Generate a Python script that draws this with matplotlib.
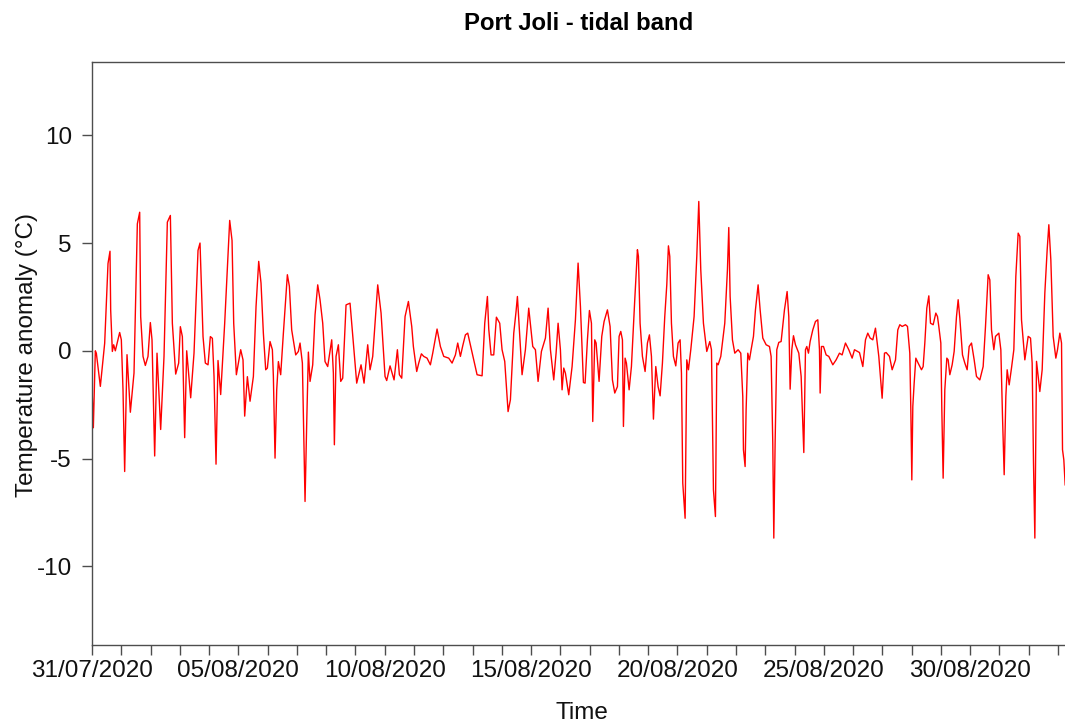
import pandas as pd
import matplotlib
matplotlib.use("Agg")
import matplotlib.pyplot as plt
import matplotlib.dates as mdates

plt.rcParams['font.family'] = ['Liberation Sans', 'DejaVu Sans']

# tidal band anomaly, time in days after 31/07/2020 00:00
start = pd.Timestamp("2020-07-31")
days = [
    0.011, 0.046, 0.114, 0.148, 0.285, 0.433, 0.547, 0.615, 0.638, 0.695, 0.740, 0.797, 0.945,
    1.002, 1.059, 1.116, 1.196, 1.310, 1.435, 1.549, 1.629, 1.663, 1.743, 1.822, 1.913, 1.993,
    2.050, 2.141, 2.221, 2.346, 2.460, 2.574, 2.677, 2.745, 2.859, 2.961, 3.018, 3.087, 3.166,
    3.235, 3.371, 3.485, 3.622, 3.690, 3.793, 3.872, 3.964, 4.043, 4.112, 4.169, 4.237, 4.305,
    4.396, 4.533, 4.704, 4.784, 4.841, 4.932, 5.080, 5.159, 5.216, 5.308, 5.399,
    5.513, 5.604, 5.695, 5.774, 5.854, 5.934, 5.991, 6.082, 6.162, 6.196, 6.253, 6.310, 6.367,
    6.446, 6.538, 6.674, 6.743, 6.822, 6.959, 7.050, 7.107, 7.187, 7.278, 7.335, 7.392, 7.449,
    7.540, 7.620, 7.711, 7.790, 7.882, 7.961, 8.052, 8.189, 8.246, 8.280, 8.337, 8.417, 8.497,
    8.565, 8.679, 8.815, 8.872, 9.043, 9.191, 9.294, 9.419, 9.499, 9.590, 9.761, 9.875, 10.011,
    10.068, 10.182, 10.319, 10.433, 10.501, 10.581, 10.695, 10.809, 10.923, 10.979,
    11.093, 11.162, 11.253, 11.333, 11.446, 11.560, 11.640, 11.788, 11.902, 12.016, 12.187,
    12.301, 12.415, 12.494, 12.585, 12.665, 12.756, 12.836, 12.961, 13.041, 13.155, 13.326,
    13.417, 13.508, 13.554, 13.633, 13.724, 13.815, 13.929, 14.009, 14.100, 14.214, 14.294,
    14.408, 14.487, 14.533, 14.601, 14.692, 14.806, 14.920, 15.057, 15.148, 15.239, 15.353,
    15.490, 15.581, 15.661, 15.774, 15.854, 15.923, 16.002, 16.059, 16.116, 16.173, 16.287,
    16.401, 16.515, 16.606, 16.686,
    16.788, 16.845, 16.925, 16.993, 17.062, 17.107, 17.175, 17.221, 17.323, 17.415, 17.494,
    17.608, 17.699, 17.779, 17.859, 17.950, 18.007, 18.064, 18.121, 18.155, 18.212, 18.257,
    18.349, 18.428, 18.542, 18.633, 18.667, 18.724, 18.804, 18.895, 18.975, 19.043, 19.112,
    19.180, 19.260, 19.339, 19.408, 19.487, 19.567, 19.636, 19.692, 19.738, 19.795, 19.863,
    19.943, 20.023, 20.091, 20.137, 20.182, 20.262, 20.319, 20.376, 20.456, 20.569, 20.661,
    20.729, 20.797, 20.888, 21.002, 21.105, 21.162, 21.230, 21.298, 21.344, 21.390, 21.481,
    21.617, 21.708, 21.754, 21.800, 21.879, 21.959, 22.073, 22.164,
    22.232, 22.255, 22.312, 22.346, 22.403, 22.460, 22.517, 22.597, 22.665, 22.756, 22.825,
    22.916, 23.030, 23.144, 23.200, 23.257, 23.292, 23.337, 23.394, 23.462, 23.542, 23.656,
    23.747, 23.804, 23.850, 23.907, 23.964, 24.032, 24.146, 24.226, 24.317, 24.374, 24.419,
    24.476, 24.533, 24.624, 24.715, 24.795, 24.852, 24.875, 24.920, 24.989, 25.080, 25.171,
    25.308, 25.421, 25.535, 25.626, 25.740, 25.854, 25.968, 26.048, 26.219, 26.333, 26.424,
    26.503, 26.583, 26.674, 26.765, 26.879, 26.993, 27.073, 27.130, 27.244, 27.335, 27.449,
    27.528,
    27.597, 27.677, 27.790, 27.859, 27.938, 27.973, 28.007, 28.041, 28.087, 28.144, 28.223,
    28.337, 28.394, 28.451, 28.519, 28.588, 28.645, 28.736, 28.827, 28.884, 28.929, 28.998,
    29.032, 29.077, 29.134, 29.203, 29.248, 29.305, 29.385, 29.453, 29.533, 29.590, 29.647,
    29.738, 29.818, 29.897, 29.966, 30.046, 30.137, 30.216, 30.330, 30.444, 30.524, 30.615,
    30.672, 30.729, 30.809, 30.866, 30.980, 31.048, 31.105, 31.162, 31.219, 31.264, 31.333,
    31.412, 31.492, 31.560, 31.640, 31.697, 31.754, 31.868, 31.982, 32.062, 32.118, 32.164,
    32.210, 32.267, 32.323, 32.380, 32.460, 32.551, 32.631, 32.688, 32.756, 32.836, 32.927,
    32.984, 33.064, 33.121, 33.155, 33.200, 33.246,
]
anomaly = [
    -2.11, -3.57, 0.00, -0.11, -1.65, 0.35, 4.05, 4.62, 1.89, -0.03, 0.28, 0.00, 0.85,
    0.51, -1.80, -5.60, -0.18, -2.85, -1.03, 5.89, 6.43, 1.58, -0.26, -0.68, -0.26, 1.31,
    0.51, -4.88, -0.11, -3.65, -0.26, 5.97, 6.28, 1.28, -1.08, -0.57, 1.12, 0.66, -4.03,
    0.00, -2.18, -0.11, 4.66, 5.00, 0.66, -0.57, -0.65, 0.66, 0.58, -1.20, -5.26, -0.45,
    -2.03, 1.28, 6.05, 5.12, 1.28, -1.11, 0.05, -0.42, -3.03, -1.20, -2.34,
    -1.19, 2.06, 4.15, 3.14, 0.82, -0.88, -0.80, 0.43, 0.05, -1.19, -4.98, -1.81, -0.50,
    -1.11, 0.82, 3.53, 2.99, 0.97, -0.19, -0.03, 0.36, -0.57, -6.99, -3.36, -0.06, -1.42,
    -0.65, 1.67, 3.06, 2.37, 1.28, -0.50, -0.73, 0.51, -1.04, -4.36, -0.26, 0.28, -1.42,
    -1.27, 2.13, 2.21, 1.28, -1.50, -0.65, -1.50, 0.28, -0.88, -0.26, 3.06, 1.75, -1.19,
    -1.38, -0.70, -1.35, 0.05, -1.11, -1.27, 1.59, 2.29, 1.13, 0.20,
    -0.96, -0.57, -0.14, -0.26, -0.34, -0.65, -0.11, 1.01, 0.20, -0.26, -0.34,
    -0.57, -0.19, 0.36, -0.26, 0.23, 0.74, 0.82, 0.05, -0.42, -1.11, -1.16,
    1.28, 2.52, 1.01, -0.19, -0.19, 1.56, 1.28, 0.05, -0.49, -2.82, -2.27,
    0.82, 1.83, 2.52, 0.97, -1.11, 0.05, 1.98, 0.20, 0.05, -1.42, -0.03,
    0.59, 1.98, 0.05, -1.35, -0.11, 1.28, 0.05, -1.81, -0.80, -1.04, -2.04,
    -0.73, 1.44, 4.07, 2.06,
    -1.47, -1.50, 0.51, 1.87, 1.28, -3.28, 0.51, 0.36, -1.42, 0.67, 1.36,
    1.90, 1.13, -1.35, -1.96, -1.66, 0.67, 0.90, 0.51, -3.51, -0.34, -0.57,
    -1.81, -0.73, 2.37, 4.69, 4.38, 1.28, -0.26, -0.96, 0.36, 0.74, -0.26,
    -3.17, -0.73, -1.66, -2.09, -0.57, 1.59, 3.06, 4.87, 4.38, 1.28, -0.26,
    -0.70, 0.36, 0.51, -1.04, -6.14, -7.77, -0.42, -0.88, 0.05, 1.59, 4.38,
    6.93, 3.76, 1.28, -0.03, 0.43, 0.05, -6.45, -7.69, -0.57, -0.65, -0.26,
    1.28, 3.76, 5.72, 2.52, 0.51, -0.11, 0.05, -0.11,
    -2.12, -4.59, -5.37, -2.74, -0.11, -0.42, 0.05, 0.67, 1.90, 3.06, 1.90,
    0.59, 0.28, 0.20, -0.26, -4.28, -8.69, -4.28, 0.05, 0.39, 0.43, 1.90,
    2.75, 1.59, -1.78, 0.05, 0.70, 0.28, -0.11, -1.19, -4.72, 0.05, 0.20,
    -0.11, 0.43, 0.97, 1.36, 1.44, 0.05, -1.96, 0.20, 0.20, -0.19, -0.26,
    -0.65, -0.42, -0.11, -0.19, 0.36, 0.05, -0.34, 0.05, -0.08, -0.73, 0.51,
    0.82, 0.59, 0.51, 1.05, -0.26, -2.20, -0.11, -0.08, -0.26, -0.88, -0.42,
    0.97,
    1.21, 1.13, 1.21, 1.13, -0.11, -2.74, -5.99, -2.58, -1.50, -0.34, -0.57,
    -0.88, -0.73, 0.36, 1.98, 2.55, 1.28, 1.21, 1.75, 1.59, 1.13, 0.36,
    -2.74, -5.91, -1.81, -0.34, -0.42, -1.11, -0.65, -0.03, 1.59, 2.37, 1.52,
    -0.19, -0.57, -0.88, 0.20, 0.36, -0.42, -1.19, -1.35, -0.73, 1.13, 3.53,
    3.29, 0.97, 0.05, 0.67, 0.82, 0.05, -3.05, -5.75, -2.12, -0.88, -1.58,
    -0.80, 0.05, 3.45, 5.46, 5.31, 1.44, -0.42, 0.67, 0.59, -0.57, -5.21,
    -8.69, -0.49, -1.19, -1.89, -0.88, 2.68, 4.69, 5.85, 4.22, 0.67, -0.34,
    0.05, 0.82, 0.36, -4.59, -5.06, -6.22,
]
tick_labels = ["31/07/2020", "05/08/2020", "10/08/2020", "15/08/2020",
               "20/08/2020", "25/08/2020", "30/08/2020"]
y_ticks = [-10, -5, 0, 5, 10]

times = start + pd.to_timedelta(days, unit="D")
major = pd.to_datetime(tick_labels, format="%d/%m/%Y")
minor = pd.date_range(start, periods=34, freq="D")

fig = plt.figure(figsize=(10.65, 7.24), dpi=100)
ax = fig.add_axes([92 / 1065, 1 - 645 / 724, 1 - 92 / 1065, (645 - 62) / 724])

ax.plot(times, anomaly, color="#ff0000", lw=1.0)

ax.set_xlim(start, start + pd.Timedelta(days=33.24))
ax.set_ylim(-13.65, 13.4)

ax.set_xticks(major)
ax.set_xticklabels(tick_labels)
ax.set_xticks(minor, minor=True)
ax.set_yticks(y_ticks)
ax.set_yticklabels([str(v) for v in y_ticks])

frame = "#4d4d4d"
for side in ["left", "bottom", "top"]:
    ax.spines[side].set_color(frame)
    ax.spines[side].set_linewidth(1.0)
ax.spines["right"].set_visible(False)

ax.tick_params(axis="both", which="both", direction="out", length=7.5,
               width=1.0, color=frame, labelsize=17.5, labelcolor="#111111")
ax.tick_params(axis="x", which="major", pad=3.5)
ax.tick_params(axis="y", which="major", pad=7)
ax.tick_params(axis="x", which="minor", labelbottom=False)

ax.set_xlabel("Time", fontsize=17.5, color="#111111")
ax.xaxis.set_label_coords(0.504, -0.097)
ax.set_ylabel("Temperature anomaly (°C)", fontsize=17.5, color="#111111")
ax.yaxis.set_label_coords(-0.055, 0.497)
ax.set_title("Port Joli - tidal band", fontsize=17.2, fontweight="bold", pad=23)

fig.savefig("out.png", dpi=100)
plt.close(fig)
